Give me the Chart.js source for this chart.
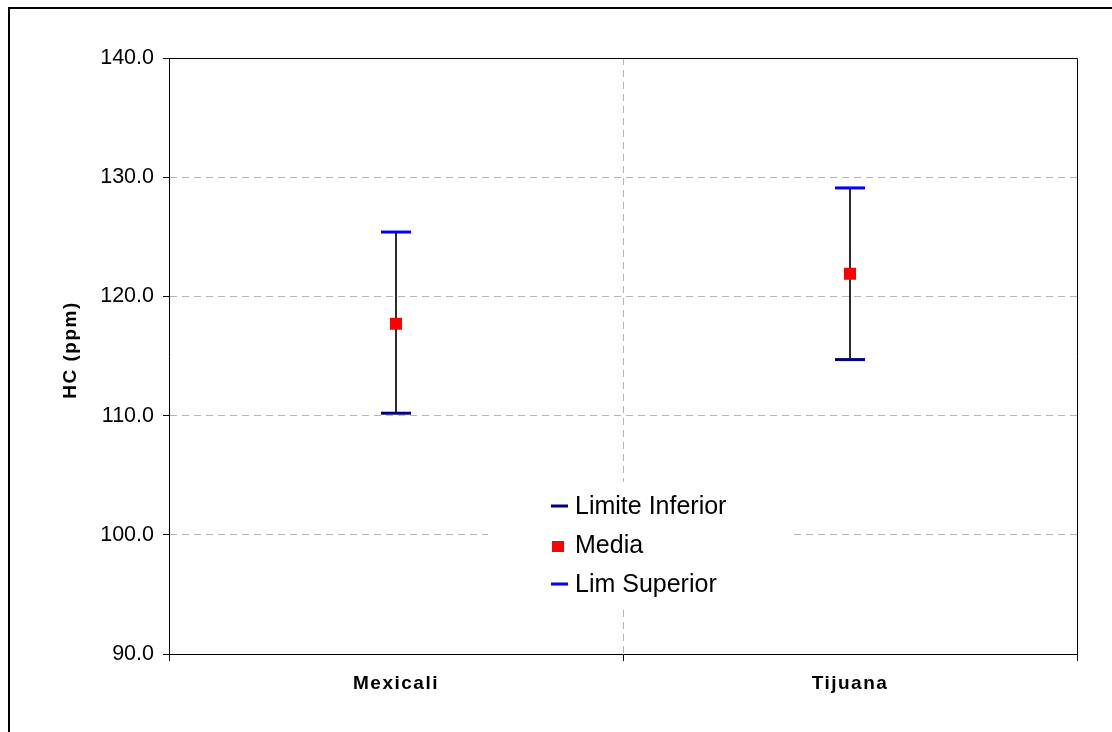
<!DOCTYPE html>
<html>
<head>
<meta charset="utf-8">
<title>HC (ppm)</title>
<script src="https://cdn.jsdelivr.net/npm/chart.js@4/dist/chart.umd.min.js"></script>
<style>
  html, body { margin: 0; padding: 0; background: #ffffff; }
  #wrap { position: relative; width: 1112px; height: 732px; }
</style>
</head>
<body>
<div id="wrap"><canvas id="chart" width="1112" height="732"></canvas></div>
<script>
// Confidence interval of HC per city
const categories = ['Mexicali', 'Tijuana'];
const limiteInferior = [110.2, 114.7];
const media = [117.7, 121.9];
const limSuperior = [125.4, 129.1];
const yTicks = [90, 100, 110, 120, 130, 140];

const FONT = "'Liberation Sans', Arial, Helvetica, sans-serif";
const GRID_GRAY = '#b4b4b4';

// Vertical whisker joining lower and upper limit
const intervalo = categories.map((c, i) => [limiteInferior[i], limSuperior[i]]);

// Wraps a scale drawing method so its text gets extra letter spacing
function spaced(scale, method, spacing, dy) {
  if (scale['_sp_' + method]) return;
  const orig = scale[method];
  scale[method] = function (...args) {
    const c = this.ctx;
    const prev = c.letterSpacing;
    c.save();
    c.translate(0, dy || 0);
    c.letterSpacing = spacing;
    orig.apply(this, args);
    c.letterSpacing = prev;
    c.restore();
  };
  scale['_sp_' + method] = true;
}

const framePlugin = {
  id: 'frame',
  beforeDraw(chart) {
    const c = chart.ctx;
    c.save();
    c.fillStyle = '#ffffff';
    c.fillRect(0, 0, chart.width, chart.height);
    // outer chart frame (left and top edges)
    c.fillStyle = '#000000';
    c.fillRect(8, 7, chart.width - 8, 2);
    c.fillRect(8, 7, 2, chart.height - 7);
    c.restore();
    spaced(chart.scales.x, 'drawLabels', '1.5px', 1);
    spaced(chart.scales.y, 'drawTitle', '1.5px', -6);
  },
  beforeDatasetsDraw(chart) {
    // plot area border
    const a = chart.chartArea;
    const c = chart.ctx;
    c.save();
    c.strokeStyle = '#000000';
    c.lineWidth = 1;
    c.beginPath();
    c.moveTo(a.left, a.top + 0.5);
    c.lineTo(a.right + 0.5, a.top + 0.5);
    c.lineTo(a.right + 0.5, a.bottom);
    c.stroke();
    c.restore();
  }
};

// Legend drawn inside the plot area on a white panel
const legendPlugin = {
  id: 'boxLegend',
  afterDatasetsDraw(chart, args, opts) {
    const a = chart.chartArea;
    const c = chart.ctx;
    const x0 = a.left + opts.left;
    const y0 = a.top + opts.top;
    c.save();
    c.fillStyle = '#ffffff';
    c.fillRect(x0, y0, opts.width, opts.height);
    const items = chart.data.datasets
      .map((d, i) => ({ d, i }))
      .filter(o => o.d.inLegend);
    c.font = opts.fontSize + 'px ' + FONT;
    c.textBaseline = 'alphabetic';
    c.textAlign = 'left';
    items.forEach((o, k) => {
      const base = y0 + opts.firstBaseline + k * opts.rowGap;
      const mid = base - 8;
      const mx = x0 + opts.markerX;
      if (o.d.pointStyle === 'rect') {
        c.fillStyle = o.d.backgroundColor;
        c.fillRect(mx + 1, mid - 4, 12, 11);
      } else {
        c.strokeStyle = o.d.borderColor;
        c.lineWidth = 3;
        c.beginPath();
        c.moveTo(mx, mid);
        c.lineTo(mx + 17, mid);
        c.stroke();
      }
      c.fillStyle = '#000000';
      c.fillText(o.d.label, x0 + opts.textX, base);
    });
    c.restore();
  }
};

new Chart(document.getElementById('chart'), {
  type: 'bar',
  data: {
    labels: categories,
    datasets: [
      {
        type: 'line',
        label: 'Limite Inferior',
        inLegend: true,
        data: limiteInferior,
        showLine: false,
        pointStyle: 'line',
        pointRadius: 15,
        pointHoverRadius: 15,
        pointBorderWidth: 3,
        borderColor: '#000080',
        backgroundColor: '#000080',
        order: 1
      },
      {
        type: 'line',
        label: 'Media',
        inLegend: true,
        data: media,
        showLine: false,
        pointStyle: 'rect',
        pointRadius: 8.5,
        pointHoverRadius: 8.5,
        pointBorderWidth: 0,
        borderColor: '#ff0000',
        backgroundColor: '#ff0000',
        order: 0
      },
      {
        type: 'line',
        label: 'Lim Superior',
        inLegend: true,
        data: limSuperior,
        showLine: false,
        pointStyle: 'line',
        pointRadius: 15,
        pointHoverRadius: 15,
        pointBorderWidth: 3,
        borderColor: '#0000ff',
        backgroundColor: '#0000ff',
        order: 1
      },
      {
        type: 'bar',
        label: 'Intervalo',
        inLegend: false,
        data: intervalo,
        backgroundColor: '#000000',
        borderWidth: 0,
        barThickness: 1,
        grouped: false,
        order: 5
      }
    ]
  },
  options: {
    responsive: false,
    animation: false,
    events: [],
    layout: { padding: { left: 0, top: 58, right: 35, bottom: 0 } },
    plugins: {
      legend: { display: false },
      tooltip: { enabled: false },
      boxLegend: {
        left: 319, top: 424, width: 302, height: 128,
        markerX: 63, textX: 87, firstBaseline: 32, rowGap: 39, fontSize: 25
      }
    },
    scales: {
      x: {
        offset: true,
        grid: {
          offset: true,
          color: (ctx) => (ctx.index === 1 ? GRID_GRAY : 'rgba(0,0,0,0)'),
          tickColor: '#000000',
          tickLength: 7,
          lineWidth: 1
        },
        border: { display: true, color: '#000000', width: 1, dash: [7, 5] },
        ticks: {
          color: '#000000',
          padding: 10,
          font: { family: FONT, size: 19, weight: 'bold' }
        },
        afterFit(scale) { scale.height = 78; }
      },
      y: {
        min: 90,
        max: 140,
        afterBuildTicks(scale) { scale.ticks = yTicks.map(v => ({ value: v })); },
        grid: {
          color: (ctx) => (ctx.tick && (ctx.tick.value === 90 || ctx.tick.value === 140) ? 'rgba(0,0,0,0)' : GRID_GRAY),
          tickColor: '#000000',
          tickLength: 6,
          lineWidth: 1
        },
        border: { display: true, color: '#000000', width: 1, dash: [7, 5] },
        ticks: {
          color: '#000000',
          padding: 9,
          font: { family: FONT, size: 21.5 },
          callback: (v) => Number(v).toFixed(1)
        },
        title: {
          display: true,
          text: 'HC (ppm)',
          color: '#000000',
          padding: { top: 59, bottom: 0 },
          font: { family: FONT, size: 19, weight: 'bold' }
        },
        afterFit(scale) { scale.width = 169; }
      }
    }
  },
  plugins: [framePlugin, legendPlugin]
});
</script>
</body>
</html>
